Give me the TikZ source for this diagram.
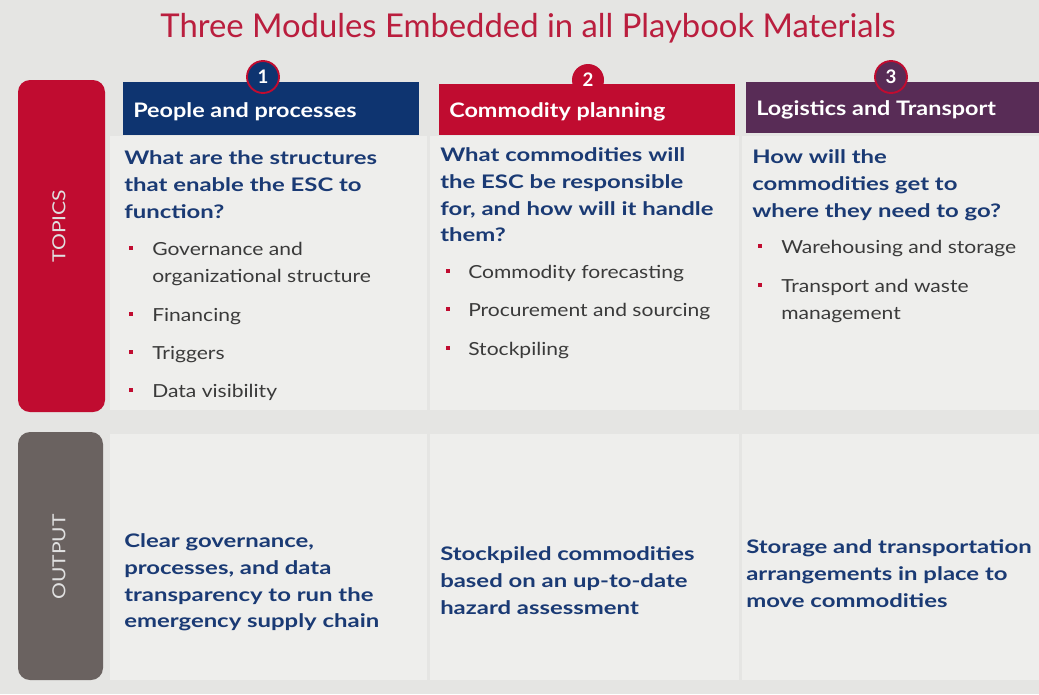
\documentclass[tikz,border=0pt]{standalone}
\usepackage{fontspec}
\setmainfont{Lato}
\newfontfamily\pbwide{Lato}[FakeStretch=1.28]
\newfontfamily\pbitem{Lato}[FakeStretch=1.17]
\newfontfamily\pbhead{Lato}[FakeStretch=1.17]
\usetikzlibrary{positioning}
\definecolor{pbcrimson}{RGB}{192,12,48}
\definecolor{pbtitle}{RGB}{186,30,62}
\definecolor{pbnavy}{RGB}{14,52,112}
\definecolor{pbplum}{RGB}{88,44,86}
\definecolor{pbtaupe}{RGB}{106,98,96}
\definecolor{pbink}{RGB}{26,58,116}
\definecolor{pbgrey}{RGB}{58,58,58}
\definecolor{pbback}{RGB}{229,229,227}
\definecolor{pbpanel}{RGB}{238,238,236}
\tikzset{
  headtext/.style={anchor=west, inner sep=0, text=white, font=\pbhead\bfseries\fontsize{15}{17}\selectfont},
  badge/.style={circle, minimum size=24pt, inner sep=0, draw=pbcrimson, line width=1.4pt,
    text=white, font=\bfseries\fontsize{14}{16}\selectfont},
  question/.style={anchor=north west, inner sep=0, align=left, text=pbink,
    font=\pbwide\bfseries\fontsize{14}{20.2}\selectfont},
  topicitem/.style={anchor=north west, inner sep=0, align=left, text=pbgrey,
    font=\pbitem\fontsize{13.5}{20.2}\selectfont},
  dot/.style={fill=pbcrimson, minimum size=3.6pt, inner sep=0},
  tablabel/.style={rotate=90, inner sep=0, text=white!88!black, font=\pbitem\fontsize{13.5}{15}\selectfont}
}
\begin{document}
\begin{tikzpicture}[x=0.75pt,y=-0.75pt]
  % background and panels
  \fill[pbback] (0,0) rectangle (1039,694);
  \fill[pbpanel] (110,136) rectangle (427,410);
  \fill[pbpanel] (430,136) rectangle (739,410);
  \fill[pbpanel] (742,136) rectangle (1039,410);
  \fill[pbpanel] (110,434) rectangle (427,680);
  \fill[pbpanel] (430,434) rectangle (739,680);
  \fill[pbpanel] (742,434) rectangle (1039,680);

  \node[text=pbtitle, font=\fontsize{24.6}{28}\selectfont] (title) at (528,28)
    {Three Modules Embedded in all Playbook Materials};

  % row tabs
  \fill[pbcrimson, rounded corners=9pt] (18,80) rectangle (105,412);
  \fill[pbtaupe, rounded corners=9pt] (18,432) rectangle (103,680);
  \node[tablabel] (topics) at (59,226) {TOPICS};
  \node[tablabel] (output) at (59,557) {OUTPUT};

  % module headers
  \fill[pbnavy] (123,82) rectangle (419,135);
  \fill[pbcrimson] (439,84) rectangle (735,135);
  \fill[pbplum] (746,82) rectangle (1039,133);
  \node[headtext] (head1) at (133,112) {People and processes};
  \node[headtext] (head2) at (449,112) {Commodity planning};
  \node[headtext] (head3) at (756,110) {Logistics and Transport};
  \node[badge, fill=pbnavy] (num1) at (263,77) {1};
  \node[badge, fill=pbcrimson, draw=none] (num2) at (588,80) {2};
  \node[badge, fill=pbplum] (num3) at (891,77) {3};

  % topics
  \node[question] (ask1) at (124,150) {What are the structures\\that enable the ESC to\\function?};
  \node[question] (ask2) at (440,147) {What commodities will\\the ESC be responsible\\for, and how will it handle\\them?};
  \node[question] (ask3) at (752,149) {How will the\\commodities get to\\where they need to go?};

  \node[topicitem] (gov) at (152,242) {Governance and\\organizational structure};
  \node[topicitem] (fin) at (152,308) {Financing};
  \node[topicitem] (trig) at (152,346) {Triggers};
  \node[topicitem] (vis) at (152,384) {Data visibility};
  \node[topicitem] (fore) at (468,265) {Commodity forecasting};
  \node[topicitem] (proc) at (468,303) {Procurement and sourcing};
  \node[topicitem] (stock) at (468,342) {Stockpiling};
  \node[topicitem] (ware) at (781,240) {Warehousing and storage};
  \node[topicitem] (trans) at (781,279) {Transport and waste\\management};

  \node[dot] (d1) at (131,248) {};
  \node[dot] (d2) at (131,314) {};
  \node[dot] (d3) at (131,352) {};
  \node[dot] (d4) at (131,390) {};
  \node[dot] (d5) at (448,271) {};
  \node[dot] (d6) at (448,309) {};
  \node[dot] (d7) at (448,348) {};
  \node[dot] (d8) at (760,246) {};
  \node[dot] (d9) at (760,285) {};

  % outputs
  \node[question] (out1) at (124,533) {Clear governance,\\processes, and data\\transparency to run the\\emergency supply chain};
  \node[question] (out2) at (440,546) {Stockpiled commodities\\based on an up-to-date\\hazard assessment};
  \node[question] (out3) at (746,539) {Storage and transportation\\arrangements in place to\\move commodities};
\end{tikzpicture}
\end{document}
